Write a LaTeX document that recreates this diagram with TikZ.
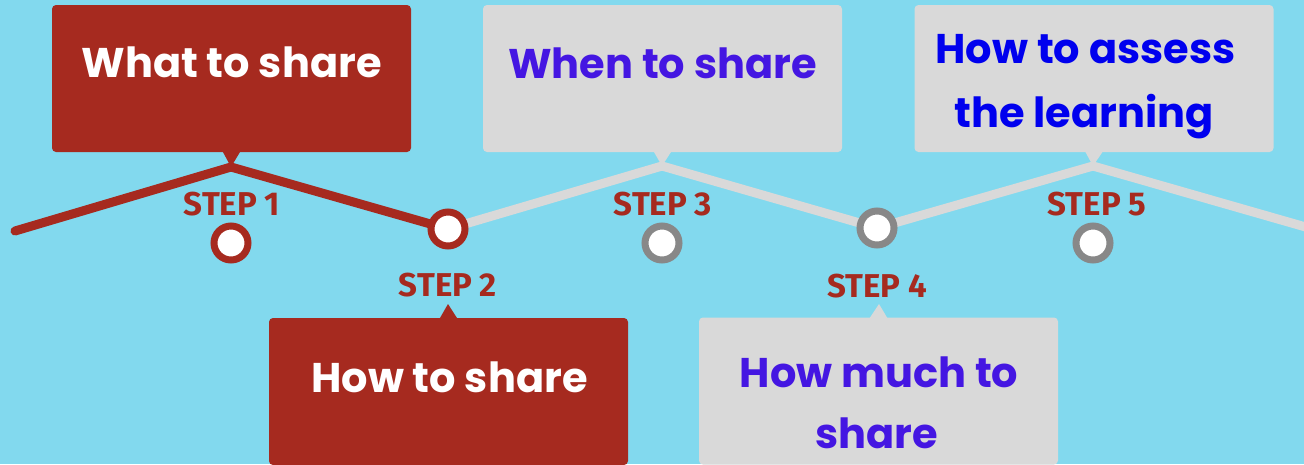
\documentclass[tikz,border=0pt]{standalone}
\usepackage{fontspec}
\setmainfont{Poppins}
\newfontfamily\stepfont{Fira Sans}
\definecolor{skyblue}{HTML}{82D9EE}
\definecolor{brick}{HTML}{A62A1F}
\definecolor{paper}{HTML}{D9D9D9}
\definecolor{ringgrey}{HTML}{888888}
\definecolor{inkviolet}{HTML}{4416E2}
\definecolor{inkblue}{HTML}{0000EE}
\tikzset{
  card/.style={rectangle,rounded corners=4pt,fill=#1,minimum width=359pt,minimum height=147pt,inner sep=0pt},
  cardtext/.style={anchor=base,inner sep=0pt,text=#1,font=\fontsize{41.5}{48}\selectfont\bfseries},
  track/.style={line width=9pt,line cap=round,draw=#1},
  ring/.style={circle,fill=white,draw=#1,line width=7pt,minimum size=34pt,inner sep=0pt},
  steplabel/.style={anchor=base,inner sep=0pt,text=brick,font=\stepfont\fontsize{33}{36}\selectfont\bfseries}
}
\begin{document}
\begin{tikzpicture}[x=1pt,y=-1pt]
\fill[skyblue] (0,0) rectangle (1304,464);
\useasboundingbox (0,0) rectangle (1304,464);
% corners of the zigzag
\coordinate (a0) at (15,231);
\coordinate (t1) at (231,167);
\coordinate (s2) at (448,229);
\coordinate (t3) at (662,166);
\coordinate (s4) at (877,228);
\coordinate (t5) at (1093,166);
\coordinate (a6) at (1330,234);
\coordinate (p2) at (448,304);
\coordinate (p4) at (879,304);
% cards
\node[card=brick] (b1) at (231.5,78.5) {};
\node[card=paper] (b3) at (662.5,78.5) {};
\node[card=paper] (b5) at (1094,78.5) {};
\node[card=brick] (b2) at (448.5,391.5) {};
\node[card=paper] (b4) at (878.5,391) {};
\fill[brick] ([xshift=-9pt,yshift=1pt]b1.south) -- (t1) -- ([xshift=9pt,yshift=1pt]b1.south) -- cycle;
\fill[paper] ([xshift=-9pt,yshift=1pt]b3.south) -- (t3) -- ([xshift=9pt,yshift=1pt]b3.south) -- cycle;
\fill[paper] ([xshift=-9pt,yshift=1pt]b5.south) -- (t5) -- ([xshift=9pt,yshift=1pt]b5.south) -- cycle;
\fill[brick] ([xshift=-9pt,yshift=-1pt]b2.north) -- (p2) -- ([xshift=9pt,yshift=-1pt]b2.north) -- cycle;
\fill[paper] ([xshift=-9pt,yshift=-1pt]b4.north) -- (p4) -- ([xshift=9pt,yshift=-1pt]b4.north) -- cycle;
% the track
\draw[track=paper] (s2) -- (t3) -- (s4) -- (t5) -- (a6);
\draw[track=brick] (a0) -- (t1) -- (s2);
\node[ring=brick] (r1) at (231,243) {};
\node[ring=brick] (r2) at (s2) {};
\node[ring=ringgrey] (r3) at (662,243) {};
\node[ring=ringgrey] (r4) at (s4) {};
\node[ring=ringgrey] (r5) at (1093,243) {};
% texts
\node[cardtext=white] (w1) at (231.5,77) {What to share};
\node[cardtext=inkviolet] (w3) at (662.5,78) {When to share};
\node[cardtext=inkblue] (w5a) at (1085.5,63) {How to assess};
\node[cardtext=inkblue] (w5b) at (1084,127) {the learning};
\node[cardtext=white] (w2) at (449.5,392) {How to share};
\node[cardtext=inkviolet] (w4a) at (879,387) {How much to};
\node[cardtext=inkviolet] (w4b) at (876.5,448) {share};
\node[steplabel] (l1) at (232,215) {STEP 1};
\node[steplabel] (l2) at (448,296) {STEP 2};
\node[steplabel] (l3) at (663,215) {STEP 3};
\node[steplabel] (l4) at (877,297) {STEP 4};
\node[steplabel] (l5) at (1097,215) {STEP 5};
\end{tikzpicture}
\end{document}
